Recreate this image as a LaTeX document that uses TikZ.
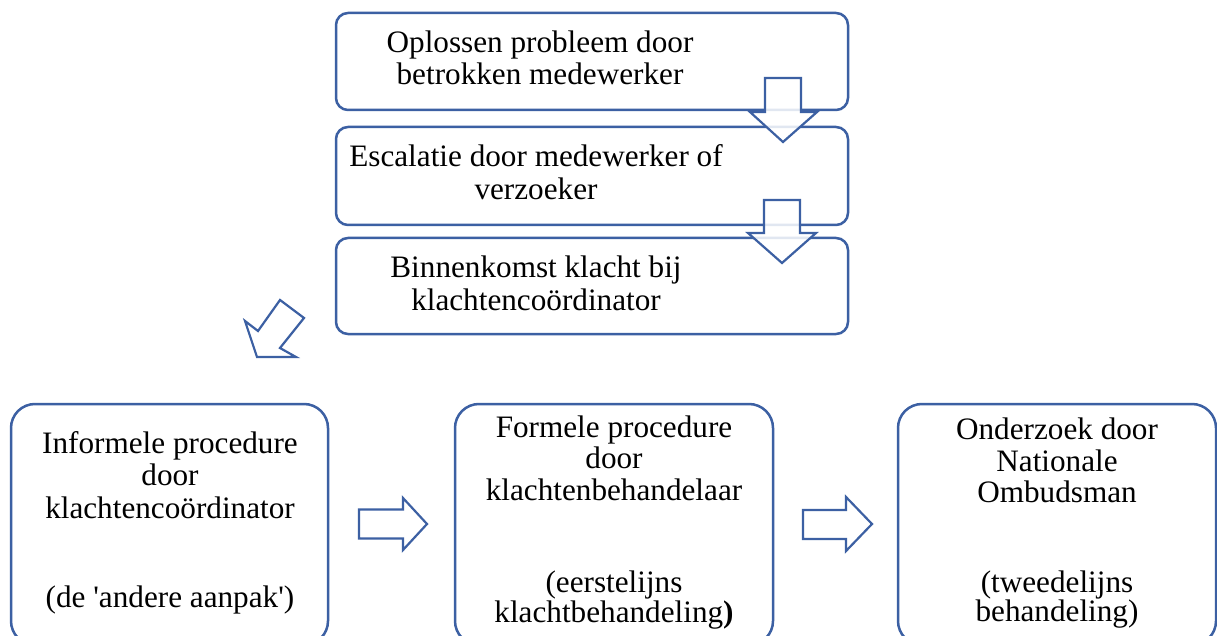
\documentclass[tikz,border=0pt]{standalone}
\usepackage{fontspec}
\setmainfont{Liberation Serif}[Ligatures=TeXOff]
\definecolor{bord}{RGB}{60,96,163}
\begin{document}
\begin{tikzpicture}[x=1pt,y=-1pt,
  box/.style={draw=bord, line width=2.5pt, rounded corners=12pt, inner sep=0pt},
  lbox/.style={draw=bord, line width=2.5pt, rounded corners=24pt, inner sep=0pt},
  txt/.style={font=\fontsize{31.2}{32}\selectfont, anchor=base, inner sep=0pt},
  barrow/.style={draw=bord, line width=2.2pt, fill=white, fill opacity=0.85, line join=miter}]
\clip (0,0) rectangle (1217,636);
\fill[white] (0,0) rectangle (1217,636);
% top boxes
\draw[box] (336,13) rectangle (848,110);
\draw[box] (336,127) rectangle (848,225);
\draw[box] (336,238) rectangle (848,334);
\node[txt] (t1a) at (540,53) {Oplossen probleem door};
\node[txt] (t1b) at (540,85) {betrokken medewerker};
\node[txt] (t2a) at (536,167) {Escalatie door medewerker of};
\node[txt] (t2b) at (536,200) {verzoeker};
\node[txt] (t3a) at (536,277) {Binnenkomst klacht bij};
\node[txt] (t3b) at (536,310) {klachtencoördinator};
% down arrows
\draw[barrow] (765,78) -- (801,78) -- (801,112) -- (817,112) -- (783,142) -- (750,112) -- (765,112) -- cycle;
\draw[barrow] (764,200) -- (800,200) -- (800,233) -- (816,233) -- (782,263) -- (748,233) -- (764,233) -- cycle;
% diagonal arrow
\draw[barrow] (280,300) -- (304,318) -- (280,348) -- (296,357) -- (257,357) -- (245,321) -- (258,331) -- cycle;
% bottom boxes
\draw[lbox] (11,404) rectangle (328,645);
\draw[lbox] (455,404) rectangle (773,645);
\draw[lbox] (898,404) rectangle (1216,645);
\node[txt] (t4a) at (170,453) {Informele procedure};
\node[txt] (t4b) at (170,485) {door};
\node[txt] (t4c) at (170,518) {klachtencoördinator};
\node[txt] (t4d) at (170,607) {(de 'andere aanpak')};
\node[txt] (t5a) at (614,437) {Formele procedure};
\node[txt] (t5b) at (614,468) {door};
\node[txt] (t5c) at (614,500) {klachtenbehandelaar};
\node[txt] (t5d) at (614,592) {(eerstelijns};
\node[txt] (t5e) at (614,622) {klachtbehandeling\textbf{)}};
\node[txt] (t6a) at (1057,439) {Onderzoek door};
\node[txt] (t6b) at (1057,471) {Nationale};
\node[txt] (t6c) at (1057,502) {Ombudsman};
\node[txt] (t6d) at (1057,592) {(tweedelijns};
\node[txt] (t6e) at (1057,621) {behandeling)};
% right arrows
\draw[barrow] (359,509.5) -- (403,509.5) -- (403,498) -- (427,524) -- (403,550) -- (403,538.5) -- (359,538.5) -- cycle;
\draw[barrow] (803,510) -- (846,510) -- (846,497) -- (872,524) -- (846,551) -- (846,539) -- (803,539) -- cycle;
\end{tikzpicture}
\end{document}
